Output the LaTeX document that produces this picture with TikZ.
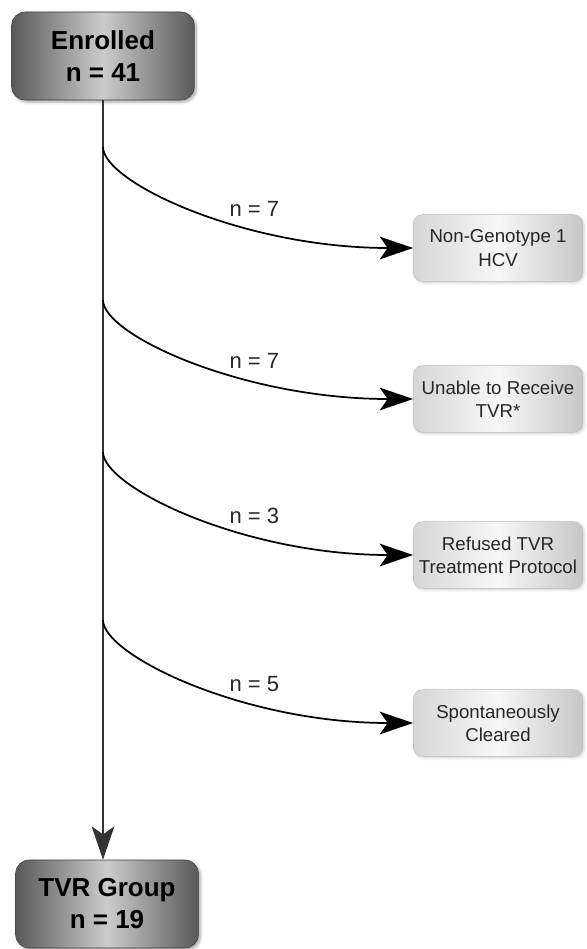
\documentclass[tikz,border=0pt]{standalone}
\usepackage{fontspec}
\setmainfont{Liberation Sans}
\usetikzlibrary{shapes,arrows.meta,positioning,calc,shadows.blur}

\begin{document}
\begin{tikzpicture}[
    x=0.75pt, y=-0.75pt,
    group/.style={rectangle, draw=black!75, left color=black!65, right color=black!65, middle color=black!20, minimum width=137pt, minimum height=66pt, align=center, font=\fontsize{19.5}{24}\selectfont\bfseries, rounded corners=10pt, blur shadow={shadow xshift=1.5pt, shadow yshift=-1.5pt, shadow opacity=35}},
    exclusion/.style={rectangle, draw=black!25, left color=black!16, right color=black!22, middle color=black!3, minimum width=127pt, minimum height=50pt, align=center, font=\fontsize{14}{17.5}\selectfont, text=black!85, rounded corners=7pt, blur shadow={shadow xshift=1pt, shadow yshift=-1pt, shadow opacity=20}},
    trunk/.style={-{Stealth[length=25pt, width=17pt, inset=6pt]}, line width=1.5pt, black!80},
    branch/.style={-{Stealth[length=25pt, width=17pt, inset=6pt]}, line width=1.3pt, black},
    count/.style={font=\fontsize{16.5}{19}\selectfont, text=black!85}
]
\useasboundingbox (0,0) rectangle (586,949);

% Start and end groups
\node[group] (enrolled) at (103,56) {Enrolled\\n = 41};
\node[group] (tvr) at (107,904) {TVR Group\\n = 19};

% Excluded patients
\node[exclusion] (genotype) at (498,248) {Non-Genotype 1\\HCV};
\node[exclusion] (unable) at (498,399) {Unable to Receive\\TVR*};
\node[exclusion] (refused) at (498,555) {Refused TVR\\Treatment Protocol};
\node[exclusion] (cleared) at (498,723) {Spontaneously\\Cleared};

% Branch points on the main line
\coordinate (br1) at (enrolled.south |- 0,147);
\coordinate (br2) at (enrolled.south |- 0,300);
\coordinate (br3) at (enrolled.south |- 0,452);
\coordinate (br4) at (enrolled.south |- 0,620);

% Arrows
\draw[trunk] (enrolled.south) -- (enrolled.south |- tvr.north);
\draw[branch] (br1) .. controls +(0,35) and +(-170,0) .. (genotype.west) node[count, pos=0.66, above=5pt] {n = 7};
\draw[branch] (br2) .. controls +(0,35) and +(-170,0) .. (unable.west) node[count, pos=0.66, above=5pt] {n = 7};
\draw[branch] (br3) .. controls +(0,35) and +(-170,0) .. (refused.west) node[count, pos=0.66, above=5pt] {n = 3};
\draw[branch] (br4) .. controls +(0,35) and +(-170,0) .. (cleared.west) node[count, pos=0.66, above=5pt] {n = 5};

\end{tikzpicture}
\end{document}
